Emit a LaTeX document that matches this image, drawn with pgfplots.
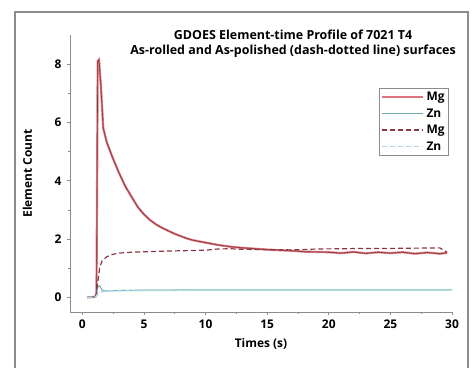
\documentclass[border=0pt]{standalone}
\usepackage{fontspec}
\setmainfont{Open Sans}
\usepackage{pgfplots}
\pgfplotsset{compat=1.18}
\definecolor{mgred}{RGB}{220,115,125}
\definecolor{mgdark}{RGB}{125,55,60}
\definecolor{mgpol}{RGB}{140,55,65}
\definecolor{znroll}{RGB}{110,170,180}
\definecolor{znpol}{RGB}{170,215,225}
\definecolor{axgray}{RGB}{140,140,140}
\begin{document}
\begin{tikzpicture}
\path[use as bounding box] (0bp,0bp) rectangle (474bp,368bp);
\fill[axgray] (15bp,355bp) rectangle (468bp,357bp);
\fill[axgray] (14bp,-5bp) rectangle (16bp,357bp);
\fill[axgray] (467bp,-5bp) rectangle (469bp,357bp);
\begin{axis}[
  at={(70bp,56bp)}, anchor=south west,
  scale only axis, width=382bp, height=277bp,
  xmin=-1, xmax=30, ymin=-0.5, ymax=9,
  axis lines=left, axis line style={axgray, line width=0.8pt, -},
  xtick={0,5,...,30}, ytick={0,2,4,6,8},
  minor xtick={2.5,7.5,...,27.5}, minor ytick={1,3,5,7},
  tick align=outside, tick style={axgray, line width=0.6pt},
  major tick length=3pt, minor tick length=2pt,
  font=\bfseries\fontsize{12}{14}\selectfont,
  ticklabel style={font=\bfseries\fontsize{12}{14}\selectfont},
  yticklabel style={xshift=-2pt},
  xticklabel style={yshift=-1pt},
  /pgf/number format/assume math mode=true,
  xlabel={Times (s)}, ylabel={Element Count},
  xlabel style={font=\bfseries\fontsize{12}{14}\selectfont, yshift=-3pt},
  ylabel style={font=\bfseries\fontsize{12}{14}\selectfont, yshift=16pt},
  title={GDOES Element-time Profile of 7021 T4\\As-rolled and As-polished (dash-dotted line) surfaces},
  title style={at={(0.584,1.011)}, anchor=north, align=center, font=\bfseries\fontsize{12.5}{16}\selectfont},
  legend style={at={(0.992,0.81)}, anchor=north east, draw=axgray, line width=0.8pt,
    font=\bfseries\fontsize{12}{15}\selectfont, row sep=2.5pt, inner sep=2pt},
  legend cell align=left,
  legend image code/.code={\draw[#1] (0cm,0cm) -- (1.45cm,0cm);},
]
\addplot[mgred, line width=2.2pt] coordinates {
(0.4,0) (1.0,0.02) (1.15,0.1) (1.25,8.1) (1.35,8.15) (1.5,7.3) (1.7,5.8) (2.0,5.3) (2.5,4.75)
(3,4.25) (3.5,3.8) (4,3.45) (4.5,3.1) (5,2.85) (5.5,2.65) (6,2.5) (6.5,2.38) (7,2.28) (7.5,2.18)
(8,2.1) (8.5,2.02) (9,1.96) (9.5,1.92) (10,1.88) (11,1.8) (12,1.74) (13,1.7) (14,1.67) (15,1.64)
(16,1.62) (17,1.6) (18,1.57) (19,1.56) (20,1.55) (21,1.52) (22,1.56) (23,1.51) (24,1.55) (25,1.52)
(26,1.55) (27,1.5) (28,1.54) (29,1.5) (29.6,1.53)};
\addlegendentry{Mg}
\addplot[mgdark, line width=0.6pt, forget plot] coordinates {
(0.4,0) (1.0,0.02) (1.15,0.1) (1.25,8.1) (1.35,8.15) (1.5,7.3) (1.7,5.8) (2.0,5.3) (2.5,4.75)
(3,4.25) (3.5,3.8) (4,3.45) (4.5,3.1) (5,2.85) (5.5,2.65) (6,2.5) (6.5,2.38) (7,2.28) (7.5,2.18)
(8,2.1) (8.5,2.02) (9,1.96) (9.5,1.92) (10,1.88) (11,1.8) (12,1.74) (13,1.7) (14,1.67) (15,1.64)
(16,1.62) (17,1.6) (18,1.57) (19,1.56) (20,1.55) (21,1.52) (22,1.56) (23,1.51) (24,1.55) (25,1.52)
(26,1.55) (27,1.5) (28,1.54) (29,1.5) (29.6,1.53)};
\addplot[znroll, line width=1pt] coordinates {
(0.4,0) (1.1,0.02) (1.25,0.35) (1.4,0.4) (1.6,0.25) (2,0.22) (3,0.24) (5,0.25) (10,0.26) (15,0.26) (20,0.26) (25,0.26) (30,0.26)};
\addlegendentry{Zn}
\addplot[mgpol, line width=1.2pt, dash pattern=on 5pt off 3pt] coordinates {
(0.4,0) (1.1,0.05) (1.25,0.5) (1.4,1.0) (1.6,1.25) (2,1.4) (2.5,1.48) (3,1.52) (4,1.55) (6,1.58)
(8,1.6) (10,1.62) (11,1.66) (12,1.67) (13,1.65) (15,1.64) (17,1.63) (19,1.66) (21,1.67) (23,1.68)
(25,1.68) (27,1.69) (29,1.7) (29.6,1.55)};
\addlegendentry{Mg}
\addplot[znpol, line width=1.6pt, dash pattern=on 5pt off 3pt] coordinates {
(0.4,0) (1.1,0.02) (1.3,0.15) (1.6,0.2) (2,0.22) (5,0.24) (10,0.25) (20,0.25) (30,0.25)};
\addlegendentry{Zn}
\end{axis}
\end{tikzpicture}
\end{document}
